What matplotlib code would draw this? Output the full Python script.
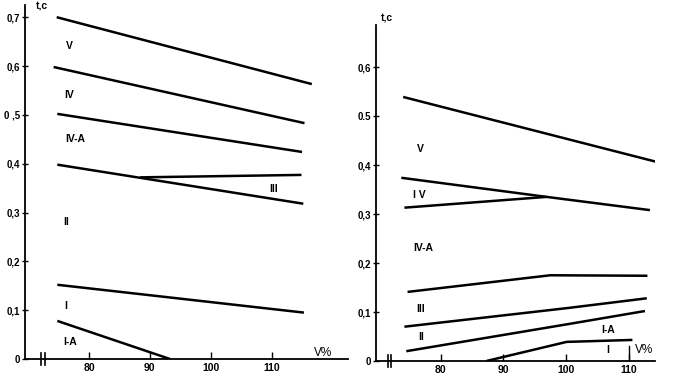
import matplotlib.pyplot as plt

plt.rcParams['font.family'] = ['Liberation Sans Narrow', 'Liberation Sans', 'DejaVu Sans']
plt.rcParams['font.weight'] = 'bold'

# left panel: boundary lines (V %, t s)
L_V5 = ([74.7, 116.6], [0.70, 0.563])
L_IV = ([74.2, 115.4], [0.598, 0.483])
L_IVA = ([74.8, 115.0], [0.502, 0.424])
L_II = ([74.8, 115.2], [0.398, 0.318])
L_III = ([88.4, 114.9], [0.372, 0.377])
L_I = ([74.8, 115.3], [0.152, 0.095])
L_IA = ([74.8, 93.3], [0.078, 0.0])
left_lines = [L_V5, L_IV, L_IVA, L_II, L_III, L_I, L_IA]
left_labels = [("V", 76.7, 0.642), ("IV", 76.7, 0.541), ("IV-A", 77.7, 0.45),
               ("II", 76.2, 0.281), ("III", 110.3, 0.348), ("I", 76.2, 0.109),
               ("I-A", 76.9, 0.035)]
left_yticks = [0, 0.1, 0.2, 0.3, 0.4, 0.5, 0.6, 0.7]
left_ylabels = ["0", "0,1", "0,2", "0,3", "0,4", "0 ,5", "0,6", "0,7"]

# right panel
R_V5 = ([74.0, 114.3], [0.539, 0.407])
R_IVu = ([73.7, 96.9, 113.4], [0.374, 0.335, 0.308])
R_IVl = ([74.2, 96.9], [0.313, 0.335])
R_IVA = ([74.7, 97.5, 113.0], [0.141, 0.175, 0.174])
R_III = ([74.2, 100.2, 112.9], [0.070, 0.108, 0.128])
R_II = ([74.5, 100.2, 112.6], [0.020, 0.075, 0.102])
R_I = ([87.3, 100.1, 110.6], [0.0, 0.039, 0.043])
right_lines = [R_V5, R_IVu, R_IVl, R_IVA, R_III, R_II, R_I]
right_labels = [("V", 76.8, 0.433), ("I V", 76.5, 0.339), ("IV-A", 77.2, 0.23),
                ("III", 76.8, 0.107), ("II", 76.8, 0.048), ("I-A", 106.8, 0.063),
                ("I", 106.6, 0.022)]
right_yticks = [0, 0.1, 0.2, 0.3, 0.4, 0.5, 0.6]
right_ylabels = ["0", "0,1", "0,2", "0,3", "0,4", "0.5", "0,6"]

xticks = [80, 90, 100, 110]

fig = plt.figure(figsize=(6.78, 3.78), dpi=100)
axL = fig.add_axes([0.0369, 0.0503, 0.476, 0.9365])
axR = fig.add_axes([0.554, 0.045, 0.412, 0.889])


def style(ax, xlim, ylim, yticks, ylabels, brk, tc):
    ax.set_xlim(*xlim)
    ax.set_ylim(*ylim)
    for s in ['top', 'right']:
        ax.spines[s].set_visible(False)
    for s in ['left', 'bottom']:
        ax.spines[s].set_linewidth(1.3)
    ax.set_yticks(yticks)
    ax.set_yticklabels(ylabels, fontsize=7)
    ax.set_xticks(xticks)
    ax.set_xticklabels([str(v) for v in xticks], fontsize=7.5)
    ax.tick_params(axis='y', direction='inout', length=5, width=1, pad=1)
    ax.tick_params(axis='x', direction='in', length=5, width=1, pad=3)
    for b in brk:
        ax.plot([b, b], [-0.012, 0.012], color='black', lw=1.2, clip_on=False)
    ax.text(tc[0], tc[1], "t,c", fontsize=7.5, ha='left', va='center', clip_on=False)


style(axL, (69.5, 122.5), (0, 0.725), left_yticks, left_ylabels, [72.2, 72.7], (71.3, 0.722))
style(axR, (69.6, 114.2), (0, 0.686), right_yticks, right_ylabels, [71.6, 72.1], (70.5, 0.70))

# taller tick at 110 on the right panel
axR.plot([110, 110], [0, 0.03], color='black', lw=1)

for xs, ys in left_lines:
    axL.plot(xs, ys, color='black', lw=1.8, solid_capstyle='butt')
for txt, x, y in left_labels:
    axL.text(x, y, txt, fontsize=7.5, ha='center', va='center')
axL.text(118.4, 0.012, "V%", fontsize=8.5, ha='center', va='center', fontweight='normal')

for xs, ys in right_lines:
    axR.plot(xs, ys, color='black', lw=1.8, solid_capstyle='butt')
for txt, x, y in right_labels:
    axR.text(x, y, txt, fontsize=7.5, ha='center', va='center')
axR.text(112.4, 0.022, "V%", fontsize=8.5, ha='center', va='center', fontweight='normal')

fig.savefig("out.png", dpi=100)
